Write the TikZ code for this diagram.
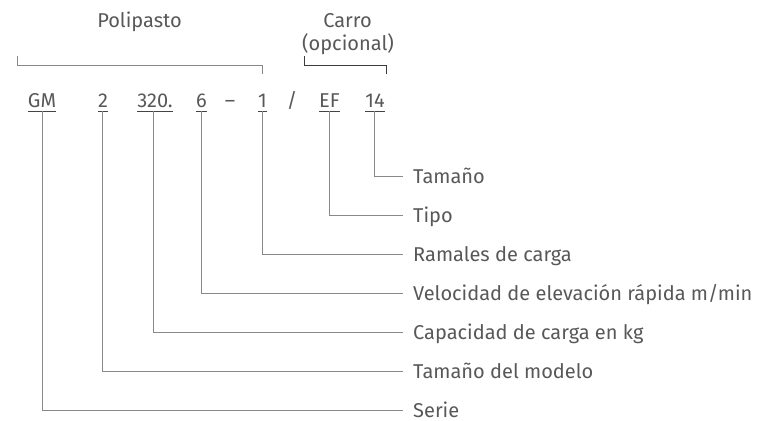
\documentclass[tikz,border=0pt]{standalone}
\usepackage{fontspec}
\setmainfont{Fira Sans}
\definecolor{txt}{HTML}{585858}
\definecolor{uline}{HTML}{444444}
\definecolor{conn}{HTML}{888888}
\definecolor{brk}{HTML}{3C3C3C}
\tikzset{
  every node/.style={font=\fontsize{20}{22}\selectfont, text=txt},
  code/.style={anchor=base, inner xsep=0pt, inner ysep=4pt, text depth=0pt},
  lbl/.style={anchor=west, inner xsep=10pt, inner ysep=0pt, text height=13.8pt, text depth=0pt},
  ul/.style={draw=uline, line width=0.9pt},
  connector/.style={draw=conn, line width=1pt},
  bracketA/.style={draw=conn, line width=1pt},
  bracketB/.style={draw=brk, line width=1pt},
}
\begin{document}
\begin{tikzpicture}[x=1pt, y=-1pt]
\useasboundingbox (0,0) rectangle (767,420);
% headings
\node[anchor=base] (poli) at (139.5,28) {Polipasto};
\node[anchor=base] (carro) at (347.5,28) {Carro};
\node[anchor=base] (opc) at (348,51) {(opcional)};
% code
\node[code] (gm) at (42,107) {GM};
\node[code] (two) at (103,107) {2};
\node[code] (cap) at (155,107) {320.};
\node[code] (six) at (201.5,107) {6};
\node[code] (dash) at (230,107) {–};
\node[code] (one) at (262.5,107) {1};
\node[code] (slash) at (292,107) {/};
\node[code] (ef) at (329.5,107) {EF};
\node[code] (ft) at (375,107) {14};
% underlines
\foreach \n in {gm,two,cap,six,one,ef,ft}
  \draw[ul] (\n.south west) -- (\n.south east);
% brackets
\coordinate (pl) at (17,65);
\coordinate (cl) at (304.5,65);
\coordinate (cr) at (386.5,65);
\draw[bracketA] ([yshift=9]pl) -- (pl) -- (pl -| one) -- ++(0,9);
\draw[bracketB] ([yshift=9]cl) -- (cl) -- (cr) -- ++(0,9);
% labels
\node[lbl] (l1) at (403,176.7) {Tamaño};
\node[lbl] (l2) at (403,215.6) {Tipo};
\node[lbl] (l3) at (403,254.5) {Ramales de carga};
\node[lbl] (l4) at (403,293.5) {Velocidad de elevación rápida m/min};
\node[lbl] (l5) at (403,332.4) {Capacidad de carga en kg};
\node[lbl] (l6) at (403,371.3) {Tamaño del modelo};
\node[lbl] (l7) at (403,410.2) {Serie};
% connectors
\draw[connector] ([xshift=-1]ft.south) |- (l1.west);
\draw[connector] (ef.south) |- (l2.west);
\draw[connector] (one.south) |- (l3.west);
\draw[connector] (six.south) |- (l4.west);
\draw[connector] ([xshift=-2]cap.south) |- (l5.west);
\draw[connector] ([xshift=-1]two.south) |- (l6.west);
\draw[connector] (gm.south) |- (l7.west);
\end{tikzpicture}
\end{document}
